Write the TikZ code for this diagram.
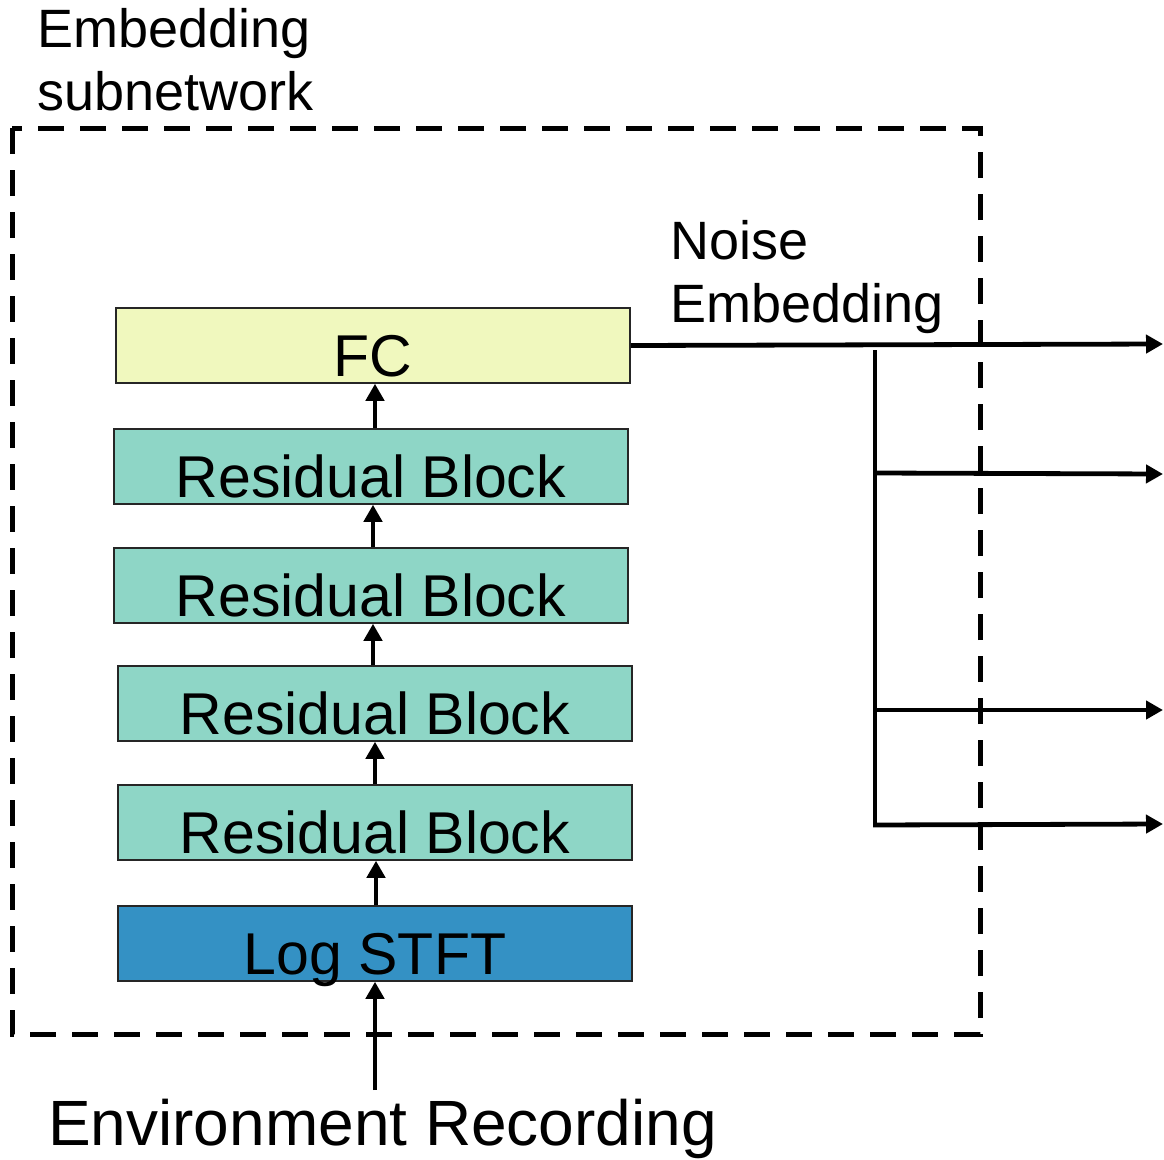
\documentclass[tikz,border=0pt]{standalone}
\usepackage{fontspec}
\setmainfont{Liberation Sans}
\usetikzlibrary{arrows.meta}
\definecolor{fcfill}{HTML}{F0F8BE}
\definecolor{rbfill}{HTML}{8ED6C6}
\definecolor{logfill}{HTML}{3491C4}
\begin{document}
\begin{tikzpicture}[x=1pt,y=-1pt,
  blockbox/.style={draw=black!85,line width=1.5pt,inner sep=0pt,minimum width=514pt,
    minimum height=75pt,text height=68pt,text depth=7pt,
    font=\fontsize{59}{64}\selectfont},
  arr/.style={line width=4.8pt,-{Triangle[length=17pt,width=18pt]}},
  plain/.style={line width=4.8pt},
  lbl/.style={inner sep=0pt,anchor=base west,align=left,font=\fontsize{54}{63}\selectfont}
  ]
\useasboundingbox (0,0) rectangle (1164,1159);
% dashed frame
\draw[line width=5pt,dash pattern=on 26pt off 16pt] (12,128) rectangle (980,1034);
\node[lbl] (title) at (37,110) {Embedding\\subnetwork};
\node[lbl] (noise) at (670,322) {Noise\\Embedding};
% blocks
\node[blockbox,fill=fcfill] (fc) at (373,345.5) {FC};
\node[blockbox,fill=rbfill] (rb1) at (371,466.5) {Residual Block};
\node[blockbox,fill=rbfill] (rb2) at (371,585.5) {Residual Block};
\node[blockbox,fill=rbfill] (rb3) at (375,703.5) {Residual Block};
\node[blockbox,fill=rbfill] (rb4) at (375,822.5) {Residual Block};
\node[blockbox,fill=logfill] (log) at (375,943.5) {Log STFT};
\node[inner sep=0pt,anchor=base west,font=\fontsize{64}{70}\selectfont] (env) at (48,1145) {Environment Recording};
% vertical flow
\coordinate (in) at (375,1090);
\draw[arr] (in) -- (in |- log.south);
\draw[arr] ([xshift=1pt]log.north) -- ([xshift=1pt]log.north |- rb4.south);
\draw[arr] ([xshift=0pt]rb4.north) -- (rb4.north |- rb3.south);
\draw[arr] ([xshift=-2pt]rb3.north) -- ([xshift=-2pt]rb3.north |- rb2.south);
\draw[arr] ([xshift=2pt]rb2.north) -- ([xshift=2pt]rb2.north |- rb1.south);
\draw[arr] ([xshift=4pt]rb1.north) -- ([xshift=4pt]rb1.north |- fc.south);
% outputs
\coordinate (o1) at (1163,344);
\draw[arr] (fc.east) -- (o1);
\coordinate (bt) at (875,350);
\coordinate (bb) at (875,826);
\draw[plain] (bt) -- (bb);
\coordinate (b2) at (875,473);
\coordinate (b3) at (875,710);
\coordinate (b4) at (873,825);
\coordinate (o2) at (1163,474);
\coordinate (o3) at (1163,710);
\coordinate (o4) at (1163,824);
\draw[arr] (b2) -- (o2);
\draw[arr] (b3) -- (o3);
\draw[arr] (b4) -- (o4);
\end{tikzpicture}
\end{document}
